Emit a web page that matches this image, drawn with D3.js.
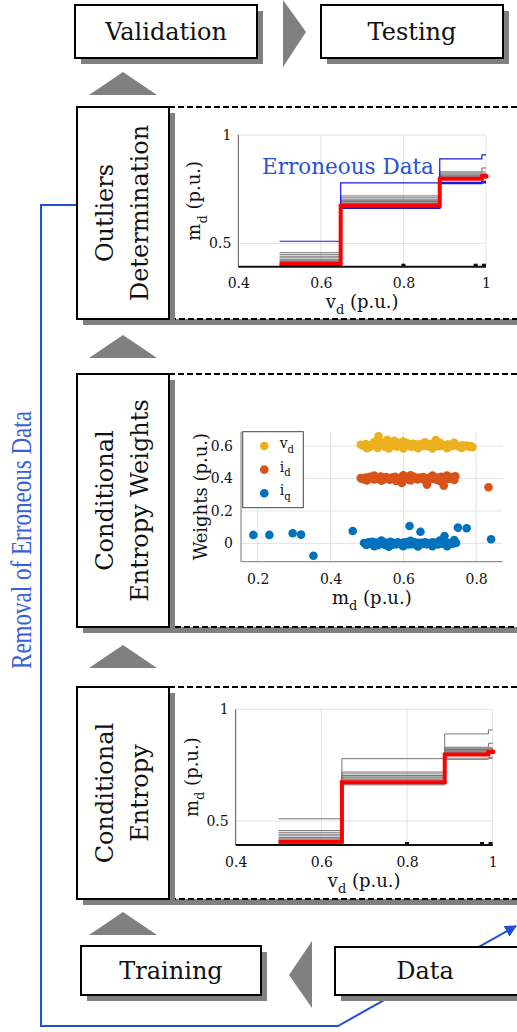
<!DOCTYPE html>
<html>
<head>
<meta charset="utf-8">
<script src="https://cdn.jsdelivr.net/npm/d3@7"></script>
<style>
  body { margin: 0; background: #fff; }
  svg { display: block; }
  text { font-family: "DejaVu Serif", serif; fill: #111; }
</style>
</head>
<body>
<div id="chart"></div>
<script>
// ---------- data ----------
// step positions of v_d shared by every run (p.u.)
const STEP_X = [0.5, 0.648, 0.888, 0.99, 1.0];
// m_d level on each step
const RED_RUN = [0.407, 0.674, 0.798, 0.81];
const GRAY_RUNS = [
  [0.457, 0.719, 0.830, 0.848],
  [0.449, 0.711, 0.825, 0.830],
  [0.441, 0.704, 0.820, 0.824],
  [0.434, 0.698, 0.816, 0.819],
  [0.427, 0.693, 0.812, 0.815],
  [0.421, 0.688, 0.808, 0.812],
  [0.415, 0.684, 0.805, 0.809]
];
const LOW_RUNS = [
  [0.396, 0.662, 0.776, 0.780],
  [0.400, 0.666, 0.781, 0.785]
];
const ERRONEOUS_RUN = [0.510, 0.779, 0.890, 0.908];
const AXIS_MARKS = [0.8, 0.975, 0.995];
const STEP_X_TICKS = [0.4, 0.6, 0.8, 1];
const STEP_Y_TICKS = [0.5, 1];

// conditional entropy weights vs m_d
const VD_POINTS = [
  [0.483,0.608],[0.49,0.6],[0.497,0.612],[0.503,0.604],[0.51,0.596],[0.516,0.61],[0.522,0.602],
  [0.528,0.615],[0.532,0.66],[0.536,0.6],[0.54,0.622],[0.545,0.607],[0.55,0.595],[0.554,0.615],
  [0.556,0.638],[0.558,0.603],[0.562,0.625],[0.566,0.598],[0.57,0.612],[0.574,0.603],[0.575,0.632],
  [0.578,0.618],[0.582,0.596],[0.586,0.608],[0.59,0.62],[0.594,0.6],[0.598,0.612],[0.6,0.628],
  [0.602,0.595],[0.606,0.606],[0.61,0.618],[0.614,0.6],[0.618,0.61],[0.622,0.596],[0.626,0.614],
  [0.63,0.603],[0.634,0.598],[0.638,0.61],[0.642,0.604],[0.646,0.596],[0.65,0.612],[0.655,0.6],
  [0.66,0.607],[0.665,0.598],[0.67,0.61],[0.675,0.602],[0.68,0.614],[0.685,0.598],[0.689,0.636],
  [0.693,0.605],[0.698,0.598],[0.703,0.61],[0.708,0.6],[0.713,0.606],[0.718,0.597],[0.723,0.61],
  [0.728,0.602],[0.733,0.598],[0.739,0.618],[0.74,0.62],[0.744,0.606],[0.75,0.6],[0.756,0.594],
  [0.762,0.604],[0.768,0.598],[0.774,0.602],[0.78,0.596],[0.786,0.6],
  [0.5,0.586],[0.53,0.588],[0.56,0.585],[0.6,0.584],[0.64,0.586],[0.68,0.585],[0.72,0.587],
  [0.76,0.588],[0.79,0.592],[0.52,0.624],[0.6,0.625],[0.66,0.622],[0.7,0.621]
];
const ID_POINTS = [
  [0.483,0.402],[0.49,0.396],[0.496,0.405],[0.502,0.398],[0.508,0.41],[0.514,0.4],[0.52,0.394],
  [0.526,0.406],[0.532,0.399],[0.538,0.412],[0.543,0.401],[0.548,0.395],[0.553,0.408],[0.558,0.4],
  [0.563,0.392],[0.568,0.405],[0.573,0.398],[0.578,0.41],[0.583,0.4],[0.588,0.395],[0.593,0.406],
  [0.596,0.372],[0.6,0.42],[0.604,0.399],[0.609,0.41],[0.614,0.394],[0.619,0.404],[0.624,0.398],
  [0.629,0.41],[0.634,0.401],[0.639,0.394],[0.644,0.406],[0.65,0.398],[0.655,0.409],[0.66,0.4],
  [0.665,0.362],[0.67,0.404],[0.675,0.396],[0.68,0.408],[0.685,0.399],[0.69,0.393],[0.695,0.405],
  [0.7,0.398],[0.705,0.41],[0.711,0.355],[0.713,0.4],[0.718,0.394],[0.723,0.405],[0.728,0.398],
  [0.733,0.408],[0.738,0.4],[0.743,0.413],[0.834,0.346],
  [0.5,0.388],[0.54,0.386],[0.58,0.385],[0.62,0.387],[0.66,0.386],[0.7,0.385],[0.74,0.39],
  [0.52,0.418],[0.62,0.42],[0.68,0.418],[0.72,0.418]
];
const IQ_POINTS = [
  [0.492,0.002],[0.498,-0.01],[0.504,0.006],[0.51,-0.004],[0.515,0.01],[0.52,-0.008],[0.525,0.003],
  [0.53,-0.012],[0.535,0.008],[0.54,-0.002],[0.545,0.006],[0.55,-0.01],[0.555,0.004],[0.56,-0.004],
  [0.565,0.009],[0.57,-0.008],[0.575,0.002],[0.58,-0.006],[0.585,0.007],[0.59,-0.002],[0.595,-0.01],
  [0.6,0.005],[0.605,-0.004],[0.61,0.008],[0.615,-0.007],[0.62,0.002],[0.625,-0.005],[0.63,0.006],
  [0.635,-0.003],[0.64,0.004],[0.645,-0.008],[0.65,0.003],[0.655,-0.004],[0.66,0.007],[0.665,-0.006],
  [0.67,0.002],[0.675,-0.003],[0.68,0.006],[0.685,-0.005],[0.69,0.003],[0.695,-0.007],[0.7,0.004],
  [0.705,-0.002],[0.71,0.006],[0.715,-0.004],[0.72,0.003],[0.725,-0.006],[0.73,0.004],[0.735,-0.002],
  [0.74,0.01],[0.745,0.002],
  [0.52,-0.018],[0.56,-0.02],[0.6,-0.018],[0.64,-0.019],[0.68,-0.017],[0.72,-0.018],
  [0.54,0.017],[0.62,0.016],[0.7,0.018],[0.74,0.02],
  [0.188,0.052],[0.232,0.052],[0.296,0.062],[0.319,0.054],[0.353,-0.076],[0.461,0.076],
  [0.617,0.107],[0.647,0.072],[0.713,0.045],[0.75,0.097],[0.774,0.093],[0.841,0.025]
];
const WEIGHT_SERIES = ["v", "i", "i"];
const WEIGHT_SUBS = ["d", "d", "q"];
const WEIGHT_X_TICKS = [0.2, 0.4, 0.6, 0.8];
const WEIGHT_Y_TICKS = [0, 0.2, 0.4, 0.6];

// ---------- styles ----------
const BLUE = "#1f4fd8";
const SHADOW = "#808080";
const GRID = "#e3e3e3";
const WEIGHT_COLORS = ["#EDB120", "#D95319", "#0072BD"];

const svg = d3.select("#chart").append("svg")
  .attr("width", 517).attr("height", 1032);

// text with a subscript, e.g. v_d (p.u.)
function subText(sel, main, sub, rest, size) {
  sel.append("tspan").text(main);
  sel.append("tspan").attr("dy", size * 0.35).style("font-size", (size * 0.72) + "px").text(sub);
  if (rest) sel.append("tspan").attr("dy", -size * 0.35).text(rest);
  return sel;
}

// box with drop shadow
function shadowBox(x, y, w, h, dashed) {
  svg.append("rect").attr("x", x + 6).attr("y", y + 6).attr("width", w).attr("height", h)
    .attr("fill", SHADOW);
  svg.append("rect").attr("x", x).attr("y", y).attr("width", w).attr("height", h)
    .attr("fill", "#fff").attr("stroke", "#000").attr("stroke-width", 2)
    .attr("stroke-dasharray", dashed ? "6,3" : null);
}

function triangle(points) {
  svg.append("polygon").attr("points", points.map(p => p.join(",")).join(" "))
    .attr("fill", SHADOW);
}

// ---------- feedback line (drawn behind boxes) ----------
const defs = svg.append("defs");
defs.append("marker").attr("id", "arrow").attr("viewBox", "0 0 10 10")
  .attr("refX", 9).attr("refY", 5).attr("markerWidth", 6).attr("markerHeight", 6)
  .attr("orient", "auto").attr("markerUnits", "strokeWidth")
  .append("path").attr("d", "M0,0 L10,5 L0,10 z").attr("fill", BLUE);

svg.append("path")
  .attr("d", "M77,205 H41 V1026 H338 L516,926")
  .attr("fill", "none").attr("stroke", BLUE).attr("stroke-width", 2)
  .attr("marker-end", "url(#arrow)");

// condensed serif caption along the feedback loop
svg.append("text")
  .attr("transform", "translate(31,540) rotate(-90)")
  .attr("text-anchor", "middle")
  .attr("textLength", 258).attr("lengthAdjust", "spacingAndGlyphs")
  .style("font-family", "'Liberation Serif', serif")
  .style("font-size", "29px").style("fill", "#3a5fd9")
  .text("Removal of Erroneous Data");

// ---------- flow boxes ----------
shadowBox(75, 5, 182, 53);
shadowBox(321, 5, 182, 53);
shadowBox(81, 946, 180, 49);
shadowBox(335, 947, 190, 48);

[["Validation", 166, 40], ["Testing", 412, 40], ["Training", 171, 979], ["Data", 425, 979]]
  .forEach(([t, x, y]) => {
    svg.append("text").attr("x", x).attr("y", y).attr("text-anchor", "middle")
      .style("font-size", "24px").text(t);
  });

triangle([[283, 0], [306, 32], [283, 67]]);
triangle([[312, 941], [289, 975], [312, 1008]]);
[[72, 95], [335, 358], [645, 668], [912, 935]].forEach(([t, b]) => {
  triangle([[89, b], [123, t], [157, b]]);
});

// stage panels: dashed frame + label box
const STAGES = [
  { top: 107, bottom: 319, lines: ["Outliers", "Determination"] },
  { top: 374, bottom: 627, lines: ["Conditional", "Entropy Weights"] },
  { top: 687, bottom: 899, lines: ["Conditional", "Entropy"] }
];
STAGES.forEach(s => {
  shadowBox(169, s.top, 352, s.bottom - s.top, true);
  shadowBox(77, s.top, 92, s.bottom - s.top);
  const cy = (s.top + s.bottom) / 2;
  s.lines.forEach((line, i) => {
    svg.append("text")
      .attr("transform", `translate(${113 + i * 35},${cy}) rotate(-90)`)
      .attr("text-anchor", "middle")
      .style("font-size", "24px")
      .text(line);
  });
});

// ---------- step charts ----------
function stepPanel(cfg) {
  const x = d3.scaleLinear().domain([0.4, 1]).range([cfg.left, cfg.right]);
  const y = d3.scaleLinear().domain([0.3926, 1]).range([cfg.bottom, cfg.top]);
  const g = svg.append("g");

  // grid
  g.selectAll(".vg").data(STEP_X_TICKS.slice(1)).enter().append("line")
    .attr("x1", d => x(d)).attr("x2", d => x(d)).attr("y1", cfg.top).attr("y2", cfg.bottom)
    .attr("stroke", GRID);
  g.selectAll(".hg").data(STEP_Y_TICKS).enter().append("line")
    .attr("x1", cfg.left).attr("x2", cfg.right).attr("y1", d => y(d)).attr("y2", d => y(d))
    .attr("stroke", GRID);

  const line = d3.line().x(d => x(d[0])).y(d => y(d[1])).curve(d3.curveStepAfter);
  const pts = lv => STEP_X.map((v, i) => [v, lv[Math.min(i, lv.length - 1)]]);

  const drawRun = (lv, color, w) => g.append("path").attr("d", line(pts(lv)))
    .attr("fill", "none").attr("stroke", color).attr("stroke-width", w);

  GRAY_RUNS.forEach((lv, i) => drawRun(lv, i % 2 ? "#8c8c8c" : "#707070", 1));
  if (cfg.erroneous) {
    LOW_RUNS.forEach(lv => drawRun(lv, "#1a1ad8", 1.6));
    drawRun(ERRONEOUS_RUN, "#1a1ae0", 1.2);
  } else {
    LOW_RUNS.forEach(lv => drawRun(lv, "#7a7a7a", 1));
    drawRun(ERRONEOUS_RUN, "#777", 1);
  }
  drawRun(RED_RUN, "#ff0000", 4);
  g.append("circle").attr("cx", x(1)).attr("cy", y(RED_RUN[3])).attr("r", 2.5).attr("fill", "#ff0000");

  // axes
  g.append("line").attr("x1", cfg.left).attr("x2", cfg.left).attr("y1", cfg.top).attr("y2", cfg.bottom)
    .attr("stroke", "#555");
  g.append("line").attr("x1", cfg.left).attr("x2", cfg.right).attr("y1", cfg.bottom).attr("y2", cfg.bottom)
    .attr("stroke", "#111").attr("stroke-width", 2);
  g.selectAll(".mk").data(AXIS_MARKS).enter().append("rect")
    .attr("x", d => x(d) - 2).attr("y", cfg.bottom - 3).attr("width", 4).attr("height", 3)
    .attr("fill", "#111");

  const xAxis = g.append("g").attr("transform", `translate(0,${cfg.bottom})`)
    .call(d3.axisBottom(x).tickValues(STEP_X_TICKS).tickSize(0).tickPadding(cfg.xPad).tickFormat(d3.format("")));
  const yAxis = g.append("g").attr("transform", `translate(${cfg.left},0)`)
    .call(d3.axisLeft(y).tickValues(STEP_Y_TICKS).tickSize(0).tickPadding(7).tickFormat(d3.format("")));
  [xAxis, yAxis].forEach(a => {
    a.select(".domain").remove();
    a.selectAll("text").style("font-family", "'DejaVu Serif', serif").style("font-size", "14px").attr("fill", "#222");
  });

  subText(g.append("text").attr("x", (cfg.left + cfg.right) / 2).attr("y", cfg.xLabelY)
    .attr("text-anchor", "middle").style("font-size", "18px"), "v", "d", " (p.u.)", 18);
  subText(g.append("text").attr("transform", `translate(${cfg.left - 38},${(cfg.top + cfg.bottom) / 2}) rotate(-90)`)
    .attr("text-anchor", "middle").style("font-size", "18px"), "m", "d", " (p.u.)", 18);

  if (cfg.erroneous) {
    g.append("text").attr("x", 262).attr("y", 174).style("font-size", "21.5px")
      .style("fill", "#2a52d6").text("Erroneous Data");
  }
}

stepPanel({ left: 238.3, right: 486, top: 135, bottom: 266.7, xPad: 11, xLabelY: 308, erroneous: true });
stepPanel({ left: 235.7, right: 492.7, top: 709.3, bottom: 845, xPad: 12, xLabelY: 887, erroneous: false });

// ---------- weights scatter ----------
function weightsPanel() {
  const left = 241, right = 502.7, top = 431.7, bottom = 561.7;
  const x = d3.scaleLinear().domain([0.154, 0.873]).range([left, right]);
  const y = d3.scaleLinear().domain([-0.113, 0.688]).range([bottom, top]);
  const g = svg.append("g");

  g.selectAll(".vg").data(WEIGHT_X_TICKS).enter().append("line")
    .attr("x1", d => x(d)).attr("x2", d => x(d)).attr("y1", top).attr("y2", bottom).attr("stroke", GRID);
  g.selectAll(".hg").data(WEIGHT_Y_TICKS).enter().append("line")
    .attr("x1", left).attr("x2", right).attr("y1", d => y(d)).attr("y2", d => y(d)).attr("stroke", GRID);

  [VD_POINTS, ID_POINTS, IQ_POINTS].forEach((pts, i) => {
    g.selectAll(".s" + i).data(pts).enter().append("circle")
      .attr("cx", d => x(d[0])).attr("cy", d => y(d[1])).attr("r", 4.3)
      .attr("fill", WEIGHT_COLORS[i]);
  });

  g.append("line").attr("x1", left).attr("x2", left).attr("y1", top).attr("y2", bottom).attr("stroke", "#777");
  g.append("line").attr("x1", left).attr("x2", right).attr("y1", bottom).attr("y2", bottom).attr("stroke", "#777");

  const xAxis = g.append("g").attr("transform", `translate(0,${bottom})`)
    .call(d3.axisBottom(x).tickValues(WEIGHT_X_TICKS).tickSize(0).tickPadding(12).tickFormat(d3.format("")));
  const yAxis = g.append("g").attr("transform", `translate(${left},0)`)
    .call(d3.axisLeft(y).tickValues(WEIGHT_Y_TICKS).tickSize(0).tickPadding(8).tickFormat(d3.format("")));
  [xAxis, yAxis].forEach(a => {
    a.select(".domain").remove();
    a.selectAll("text").style("font-family", "'DejaVu Serif', serif").style("font-size", "14px").attr("fill", "#222");
  });

  subText(g.append("text").attr("x", (left + right) / 2).attr("y", 604)
    .attr("text-anchor", "middle").style("font-size", "18px"), "m", "d", " (p.u.)", 18);
  g.append("text").attr("transform", `translate(207,${(top + bottom) / 2}) rotate(-90)`)
    .attr("text-anchor", "middle").style("font-size", "18px").text("Weights (p.u.)");

  // legend
  const lg = g.append("g").attr("transform", `translate(242.7,${top})`);
  lg.append("rect").attr("width", 60.6).attr("height", 76).attr("fill", "#fff").attr("stroke", "#444");
  WEIGHT_SERIES.forEach((s, i) => {
    const cy = 14.3 + i * 23.6;
    lg.append("circle").attr("cx", 21.6).attr("cy", cy).attr("r", 4.3).attr("fill", WEIGHT_COLORS[i]);
    subText(lg.append("text").attr("x", 37).attr("y", cy + 2).style("font-size", "14px"),
      s, WEIGHT_SUBS[i], null, 14);
  });
}
weightsPanel();
</script>
</body>
</html>
